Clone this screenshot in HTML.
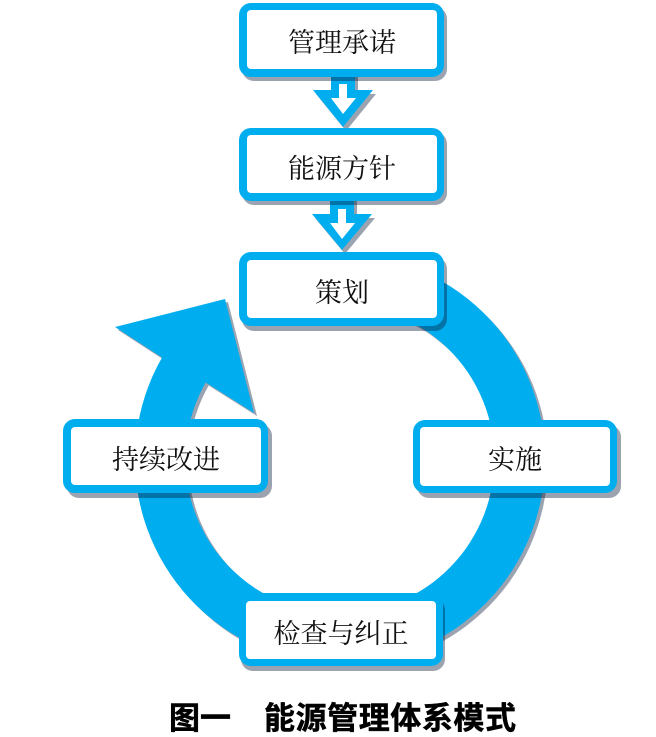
<!DOCTYPE html>
<html><head><meta charset="utf-8"><style>
html,body{margin:0;padding:0;background:#fff;width:656px;height:737px;overflow:hidden}
svg{display:block}
.t{font-family:"Liberation Serif","Noto Serif CJK SC",serif;font-size:27px;fill:#111;text-anchor:middle}
.c{font-family:"Liberation Sans","Noto Sans CJK SC",sans-serif;font-size:31px;font-weight:700;fill:#000;stroke:#000;stroke-width:.5}
</style></head><body>
<svg width="656" height="737" viewBox="0 0 656 737" xmlns="http://www.w3.org/2000/svg">
<defs>
<path id="ring" d="M414 268 A205 205 0 1 1 162 357.5 L115 327 L225 299 L254 413 L205.7 382.5 A154.5 154.5 0 1 0 395.8 315 Z"/>
<path id="a1" d="M331 70H355V90H373L343 127L313 90H331Z"/>
<path id="a2" d="M330 195H354V214H372L342 250L312 214H330Z"/>
</defs>
<g fill="#08193a" fill-opacity=".4">
<use href="#ring" x="3" y="3"/>
</g>
<use href="#ring" fill="#00aeef"/>
<rect x="250" y="640" width="185" height="34" fill="#fff"/>
<g fill="#08193a" fill-opacity=".4">
<use href="#a1" x="3" y="4"/>
<use href="#a2" x="3" y="4"/>
</g>
<use href="#a1" fill="#00aeef"/>
<use href="#a2" fill="#00aeef"/>
<path d="M339 84H347V98H356L343 114L331 98H339Z" fill="#fff"/>
<path d="M338 209H346V223H355L342 239L330 223H338Z" fill="#fff"/>
<g fill="#08193a" fill-opacity=".4">
<rect x="242" y="7" width="205" height="74" rx="12"/>
<rect x="242" y="132" width="205" height="73" rx="12"/>
<rect x="242" y="257" width="205" height="74" rx="12"/>
<rect x="67" y="424" width="205" height="74" rx="12"/>
<rect x="417" y="425" width="204" height="73" rx="12"/>
<rect x="241" y="598" width="204" height="73" rx="12"/>
</g>
<g fill="#00aeef">
<rect x="239" y="3" width="205" height="74" rx="12"/>
<rect x="239" y="128" width="205" height="73" rx="12"/>
<rect x="239" y="252" width="205" height="74" rx="12"/>
<rect x="63" y="419" width="205" height="74" rx="12"/>
<rect x="413" y="420" width="204" height="73" rx="12"/>
<rect x="239" y="593" width="204" height="73" rx="12"/>
</g>
<g fill="#fff">
<rect x="247" y="10" width="190" height="59" rx="4"/>
<rect x="247" y="135" width="190" height="58" rx="4"/>
<rect x="247" y="260" width="190" height="58" rx="4"/>
<rect x="71" y="427" width="190" height="58" rx="4"/>
<rect x="420" y="427" width="190" height="59" rx="4"/>
<rect x="246" y="601" width="190" height="58" rx="4"/>
</g>
<text class="t" x="342" y="52">管理承诺</text>
<text class="t" x="342" y="178">能源方针</text>
<text class="t" x="342" y="302">策划</text>
<text class="t" x="166" y="469">持续改进</text>
<text class="t" x="515" y="469">实施</text>
<text class="t" x="341" y="643">检查与纠正</text>
<text class="c" x="169" y="729">图一</text>
<text class="c" x="264" y="729" textLength="252" lengthAdjust="spacing">能源管理体系模式</text>
</svg>
</body></html>
